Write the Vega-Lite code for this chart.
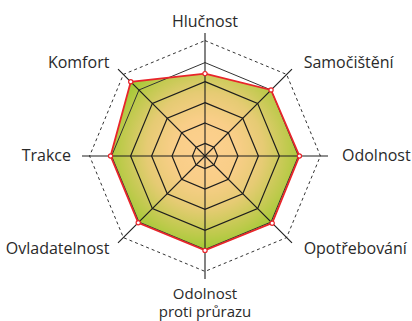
{
  "$schema": "https://vega.github.io/schema/vega-lite/v6.json",
  "width": 412,
  "height": 321,
  "padding": 0,
  "autosize": "none",
  "background": "white",
  "config": {"view": {"stroke": null}},
  "datasets": {
    "scores": [
      {"idx": 0, "label": "Hlučnost", "value": 4.12},
      {"idx": 1, "label": "Samočištění", "value": 4.67},
      {"idx": 2, "label": "Odolnost", "value": 4.72},
      {"idx": 3, "label": "Opotřebování", "value": 4.75},
      {"idx": 4, "label": ["Odolnost", "proti průrazu"], "value": 4.72},
      {"idx": 5, "label": "Ovladatelnost", "value": 4.72},
      {"idx": 6, "label": "Trakce", "value": 4.72},
      {"idx": 7, "label": "Komfort", "value": 5.25}
    ],
    "rings": [
      {"ring": 1, "level": 0.63, "idx": [0, 1, 2, 3, 4, 5, 6, 7]},
      {"ring": 2, "level": 1.65, "idx": [0, 1, 2, 3, 4, 5, 6, 7]},
      {"ring": 3, "level": 2.67, "idx": [0, 1, 2, 3, 4, 5, 6, 7]},
      {"ring": 4, "level": 3.72, "idx": [0, 1, 2, 3, 4, 5, 6, 7]},
      {"ring": 5, "level": 4.67, "idx": [0, 1, 2, 3, 4, 5, 6, 7]},
      {"ring": 6, "level": 5.77, "idx": [0, 1, 2, 3, 4, 5, 6, 7]}
    ]
  },
  "layer": [
    {
      "data": {"name": "scores"},
      "transform": [
        {"calculate": "datum.idx * PI / 4", "as": "theta"},
        {"calculate": "datum.value * sin(datum.theta)", "as": "px"},
        {"calculate": "datum.value * cos(datum.theta)", "as": "py"}
      ],
      "mark": {
        "type": "line",
        "interpolate": "linear-closed",
        "strokeWidth": 0,
        "fill": {
          "gradient": "radial",
          "x1": 0.5, "y1": 0.44, "r1": 0,
          "x2": 0.5, "y2": 0.44, "r2": 0.56,
          "stops": [
            {"offset": 0, "color": "#fdd08f"},
            {"offset": 0.3, "color": "#f9ce88"},
            {"offset": 0.55, "color": "#e6cb74"},
            {"offset": 0.8, "color": "#bdca4b"},
            {"offset": 1, "color": "#94c92a"}
          ]
        }
      },
      "encoding": {
        "x": {"field": "px", "type": "quantitative", "scale": {"domain": [-10.25, 10.35], "nice": false, "zero": false}, "axis": null},
        "y": {"field": "py", "type": "quantitative", "scale": {"domain": [-8.25, 7.8], "nice": false, "zero": false}, "axis": null},
        "order": {"field": "idx", "type": "quantitative"}
      }
    },
    {
      "data": {"name": "rings"},
      "transform": [
        {"flatten": ["idx"]},
        {"filter": "datum.ring <= 4"},
        {"calculate": "datum.idx * PI / 4", "as": "theta"},
        {"calculate": "datum.level * sin(datum.theta)", "as": "px"},
        {"calculate": "datum.level * cos(datum.theta)", "as": "py"}
      ],
      "mark": {"type": "line", "interpolate": "linear-closed", "stroke": "#1e1e1e", "strokeWidth": 1.2},
      "encoding": {
        "x": {"field": "px", "type": "quantitative", "scale": {"domain": [-10.25, 10.35], "nice": false, "zero": false}, "axis": null},
        "y": {"field": "py", "type": "quantitative", "scale": {"domain": [-8.25, 7.8], "nice": false, "zero": false}, "axis": null},
        "detail": {"field": "ring", "type": "nominal"},
        "order": {"field": "idx", "type": "quantitative"}
      }
    },
    {
      "data": {"name": "rings"},
      "transform": [
        {"flatten": ["idx"]},
        {"filter": "datum.ring == 5"},
        {"calculate": "datum.idx * PI / 4", "as": "theta"},
        {"calculate": "datum.level * sin(datum.theta)", "as": "px"},
        {"calculate": "datum.level * cos(datum.theta)", "as": "py"}
      ],
      "mark": {"type": "line", "interpolate": "linear-closed", "stroke": "#333333", "strokeWidth": 1},
      "encoding": {
        "x": {"field": "px", "type": "quantitative", "scale": {"domain": [-10.25, 10.35], "nice": false, "zero": false}, "axis": null},
        "y": {"field": "py", "type": "quantitative", "scale": {"domain": [-8.25, 7.8], "nice": false, "zero": false}, "axis": null},
        "order": {"field": "idx", "type": "quantitative"}
      }
    },
    {
      "data": {"name": "rings"},
      "transform": [
        {"flatten": ["idx"]},
        {"filter": "datum.ring == 6"},
        {"calculate": "datum.idx * PI / 4", "as": "theta"},
        {"calculate": "datum.level * sin(datum.theta)", "as": "px"},
        {"calculate": "datum.level * cos(datum.theta)", "as": "py"}
      ],
      "mark": {"type": "line", "interpolate": "linear-closed", "stroke": "#333333", "strokeWidth": 1, "strokeDash": [3, 3]},
      "encoding": {
        "x": {"field": "px", "type": "quantitative", "scale": {"domain": [-10.25, 10.35], "nice": false, "zero": false}, "axis": null},
        "y": {"field": "py", "type": "quantitative", "scale": {"domain": [-8.25, 7.8], "nice": false, "zero": false}, "axis": null},
        "order": {"field": "idx", "type": "quantitative"}
      }
    },
    {
      "data": {"name": "scores"},
      "transform": [
        {"calculate": "datum.idx * PI / 4", "as": "theta"},
        {"calculate": "6.15 * sin(datum.theta)", "as": "ex"},
        {"calculate": "6.15 * cos(datum.theta)", "as": "ey"},
        {"calculate": "0", "as": "cx"}
      ],
      "mark": {"type": "rule", "stroke": "#1e1e1e", "strokeWidth": 1.1},
      "encoding": {
        "x": {"field": "cx", "type": "quantitative", "scale": {"domain": [-10.25, 10.35], "nice": false, "zero": false}, "axis": null},
        "y": {"field": "cx", "type": "quantitative", "scale": {"domain": [-8.25, 7.8], "nice": false, "zero": false}, "axis": null},
        "x2": {"field": "ex"},
        "y2": {"field": "ey"}
      }
    },
    {
      "data": {"name": "scores"},
      "transform": [
        {"calculate": "datum.idx * PI / 4", "as": "theta"},
        {"calculate": "datum.value * sin(datum.theta)", "as": "px"},
        {"calculate": "datum.value * cos(datum.theta)", "as": "py"}
      ],
      "mark": {"type": "line", "interpolate": "linear-closed", "stroke": "#e8252b", "strokeWidth": 1.8},
      "encoding": {
        "x": {"field": "px", "type": "quantitative", "scale": {"domain": [-10.25, 10.35], "nice": false, "zero": false}, "axis": null},
        "y": {"field": "py", "type": "quantitative", "scale": {"domain": [-8.25, 7.8], "nice": false, "zero": false}, "axis": null},
        "order": {"field": "idx", "type": "quantitative"}
      }
    },
    {
      "data": {"name": "scores"},
      "transform": [
        {"calculate": "datum.idx * PI / 4", "as": "theta"},
        {"calculate": "datum.value * sin(datum.theta)", "as": "px"},
        {"calculate": "datum.value * cos(datum.theta)", "as": "py"}
      ],
      "mark": {"type": "point", "filled": true, "fill": "white", "stroke": "#e8252b", "strokeWidth": 1.2, "size": 18, "opacity": 1},
      "encoding": {
        "x": {"field": "px", "type": "quantitative", "scale": {"domain": [-10.25, 10.35], "nice": false, "zero": false}, "axis": null},
        "y": {"field": "py", "type": "quantitative", "scale": {"domain": [-8.25, 7.8], "nice": false, "zero": false}, "axis": null}
      }
    },
    {
      "data": {"name": "scores"},
      "transform": [
        {"filter": "datum.idx == 0"},
        {"calculate": "datum.idx * PI / 4", "as": "theta"},
        {"calculate": "6.7 * sin(datum.theta)", "as": "px"},
        {"calculate": "6.7 * cos(datum.theta)", "as": "py"}
      ],
      "mark": {"type": "text", "align": "center", "baseline": "middle", "font": "Open Sans", "fontSize": 16, "color": "#2a2a2a"},
      "encoding": {
        "x": {"field": "px", "type": "quantitative", "scale": {"domain": [-10.25, 10.35], "nice": false, "zero": false}, "axis": null},
        "y": {"field": "py", "type": "quantitative", "scale": {"domain": [-8.25, 7.8], "nice": false, "zero": false}, "axis": null},
        "text": {"field": "label"}
      }
    },
    {
      "data": {"name": "scores"},
      "transform": [
        {"filter": "datum.idx >= 1 && datum.idx <= 3"},
        {"calculate": "datum.idx * PI / 4", "as": "theta"},
        {"calculate": "6.55 * sin(datum.theta)", "as": "px"},
        {"calculate": "6.55 * cos(datum.theta)", "as": "py"}
      ],
      "mark": {"type": "text", "align": "left", "baseline": "middle", "dx": 6, "font": "Open Sans", "fontSize": 16, "color": "#2a2a2a"},
      "encoding": {
        "x": {"field": "px", "type": "quantitative", "scale": {"domain": [-10.25, 10.35], "nice": false, "zero": false}, "axis": null},
        "y": {"field": "py", "type": "quantitative", "scale": {"domain": [-8.25, 7.8], "nice": false, "zero": false}, "axis": null},
        "text": {"field": "label"}
      }
    },
    {
      "data": {"name": "scores"},
      "transform": [
        {"filter": "datum.idx >= 5"},
        {"calculate": "datum.idx * PI / 4", "as": "theta"},
        {"calculate": "6.55 * sin(datum.theta)", "as": "px"},
        {"calculate": "6.55 * cos(datum.theta)", "as": "py"}
      ],
      "mark": {"type": "text", "align": "right", "baseline": "middle", "dx": -3, "font": "Open Sans", "fontSize": 16, "color": "#2a2a2a"},
      "encoding": {
        "x": {"field": "px", "type": "quantitative", "scale": {"domain": [-10.25, 10.35], "nice": false, "zero": false}, "axis": null},
        "y": {"field": "py", "type": "quantitative", "scale": {"domain": [-8.25, 7.8], "nice": false, "zero": false}, "axis": null},
        "text": {"field": "label"}
      }
    },
    {
      "data": {"name": "scores"},
      "transform": [
        {"filter": "datum.idx == 4"},
        {"calculate": "datum.idx * PI / 4", "as": "theta"},
        {"calculate": "6.55 * sin(datum.theta)", "as": "px"},
        {"calculate": "6.55 * cos(datum.theta)", "as": "py"}
      ],
      "mark": {"type": "text", "align": "center", "baseline": "top", "dy": 0, "lineHeight": 18, "font": "Open Sans", "fontSize": 15, "color": "#2a2a2a"},
      "encoding": {
        "x": {"field": "px", "type": "quantitative", "scale": {"domain": [-10.25, 10.35], "nice": false, "zero": false}, "axis": null},
        "y": {"field": "py", "type": "quantitative", "scale": {"domain": [-8.25, 7.8], "nice": false, "zero": false}, "axis": null},
        "text": {"field": "label"}
      }
    }
  ]
}
